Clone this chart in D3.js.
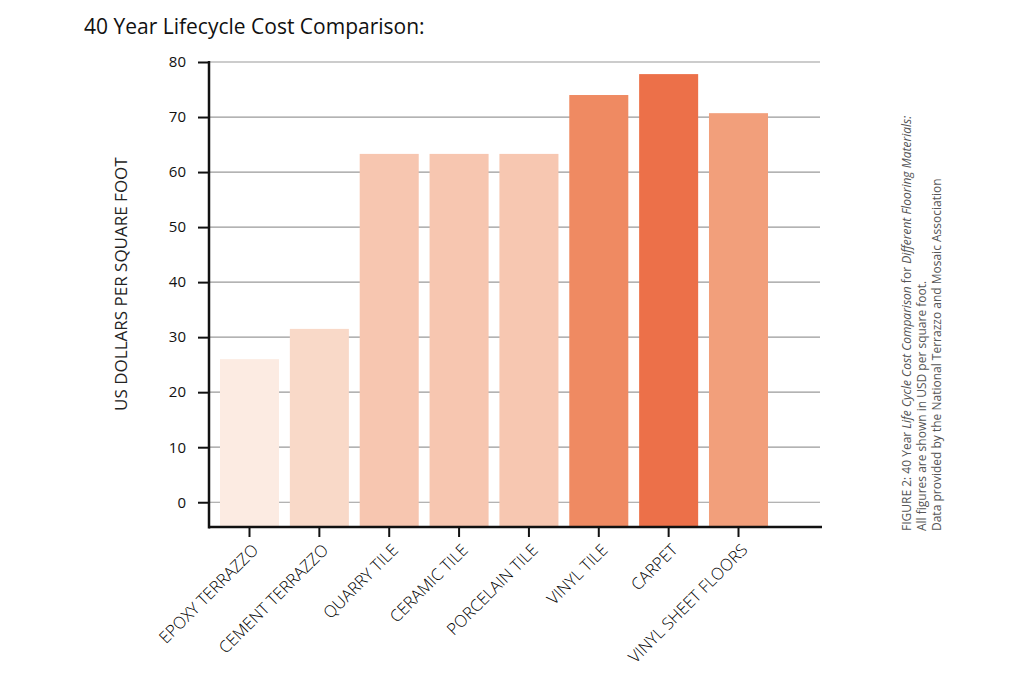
<!DOCTYPE html>
<html>
<head>
<meta charset="utf-8">
<script src="https://cdn.jsdelivr.net/npm/d3@7"></script>
<style>
  body { margin: 0; background: #fff; }
  text { font-family: "Open Sans", "Noto Sans", sans-serif; }
</style>
</head>
<body>
<div id="chart"></div>
<script>
var svgWidth = 1024;
var svgHeight = 683;

// chart data
var materials = ["EPOXY TERRAZZO", "CEMENT TERRAZZO", "QUARRY TILE", "CERAMIC TILE",
    "PORCELAIN TILE", "VINYL TILE", "CARPET", "VINYL SHEET FLOORS"];
var costs = [26, 31.5, 63.3, 63.3, 63.3, 74, 77.8, 70.7];
var yTicks = [0, 10, 20, 30, 40, 50, 60, 70, 80];

var barColors = ["#fcebe2", "#f9d9c8", "#f7c6b0", "#f7c6b0", "#f7c7b1", "#ef8a62", "#ec7049", "#f29f7b"];

var svg = d3.select("#chart")
    .append("svg")
    .attr("width", svgWidth)
    .attr("height", svgHeight);

// scales
var xBand = d3.scaleBand()
    .domain(materials)
    .range([213, 775])
    .paddingInner(0.155)
    .paddingOuter(0.1);

var yLinear = d3.scaleLinear()
    .domain([-4.5, 80])
    .range([527, 62]);

var axisLeftX = 209;
var gridRight = 820;

// title
svg.append("text")
    .attr("x", 84)
    .attr("y", 34)
    .attr("font-size", "21px")
    .attr("fill", "#111")
    .text("40 Year Lifecycle Cost Comparison:");

// gridlines
svg.append("g")
    .selectAll("line")
    .data(yTicks)
    .enter()
    .append("line")
    .attr("x1", axisLeftX)
    .attr("x2", gridRight)
    .attr("y1", d => yLinear(d))
    .attr("y2", d => yLinear(d))
    .attr("stroke", "#9a9a9a")
    .attr("stroke-width", 1.2);

// bars
svg.append("g")
    .selectAll("rect")
    .data(materials)
    .enter()
    .append("rect")
    .attr("x", d => xBand(d))
    .attr("width", xBand.bandwidth())
    .attr("y", (d, i) => yLinear(costs[i]))
    .attr("height", (d, i) => yLinear(-4.5) - yLinear(costs[i]))
    .attr("fill", (d, i) => barColors[i]);

// y axis
var leftAxis = d3.axisLeft(yLinear)
    .tickValues(yTicks)
    .tickSize(11)
    .tickPadding(12);

var yAxis = svg.append("g")
    .attr("transform", `translate(${axisLeftX}, 0)`)
    .call(leftAxis);

yAxis.select(".domain").remove();
yAxis.selectAll("line").attr("stroke", "#111").attr("stroke-width", 2);
yAxis.selectAll("text")
    .attr("font-size", "15px")
    .attr("fill", "#111");

svg.append("line")
    .attr("x1", axisLeftX)
    .attr("x2", axisLeftX)
    .attr("y1", yLinear(80) - 1)
    .attr("y2", yLinear(-4.5) + 1.5)
    .attr("stroke", "#111")
    .attr("stroke-width", 2.5);

// x axis
var bottomAxis = d3.axisBottom(xBand)
    .tickSize(10)
    .tickSizeOuter(0)
    .tickFormat("");

var xAxis = svg.append("g")
    .attr("transform", `translate(0, ${yLinear(-4.5)})`)
    .call(bottomAxis);

xAxis.select(".domain").remove();
xAxis.selectAll("line").attr("stroke", "#111").attr("stroke-width", 2);

svg.append("line")
    .attr("x1", axisLeftX)
    .attr("x2", gridRight + 2)
    .attr("y1", yLinear(-4.5))
    .attr("y2", yLinear(-4.5))
    .attr("stroke", "#111")
    .attr("stroke-width", 2.5);

// rotated category labels
svg.append("g")
    .selectAll("text")
    .data(materials)
    .enter()
    .append("text")
    .attr("transform", d => `translate(${xBand(d) + xBand.bandwidth() / 2 + 10}, ${yLinear(-4.5) + 24}) rotate(-45)`)
    .attr("text-anchor", "end")
    .attr("font-size", "16.5px")
    .attr("font-weight", 300)
    .attr("fill", "#000")
    .text(d => d);

// y axis title
svg.append("text")
    .attr("transform", `translate(127, ${(yLinear(80) + yLinear(0)) / 2 + 2}) rotate(-90)`)
    .attr("text-anchor", "middle")
    .attr("font-size", "17px")
    .attr("fill", "#222")
    .text("US DOLLARS PER SQUARE FOOT");

// side note
var note = svg.append("g")
    .attr("transform", "translate(911, 531) rotate(-90)")
    .attr("font-size", "12px")
    .attr("fill", "#555");

var line1 = note.append("text").attr("x", 0).attr("y", 0);
line1.append("tspan").text("FIGURE 2: 40 Year ");
line1.append("tspan").attr("font-style", "italic").text("Life Cycle Cost Comparison ");
line1.append("tspan").text("for ");
line1.append("tspan").attr("font-style", "italic").text("Different Flooring Materials:");

note.append("text").attr("x", 0).attr("y", 15)
    .text("All figures are shown in USD per square foot.");
note.append("text").attr("x", 0).attr("y", 30)
    .text("Data provided by the National Terrazzo and Mosaic Association");
</script>
</body>
</html>
